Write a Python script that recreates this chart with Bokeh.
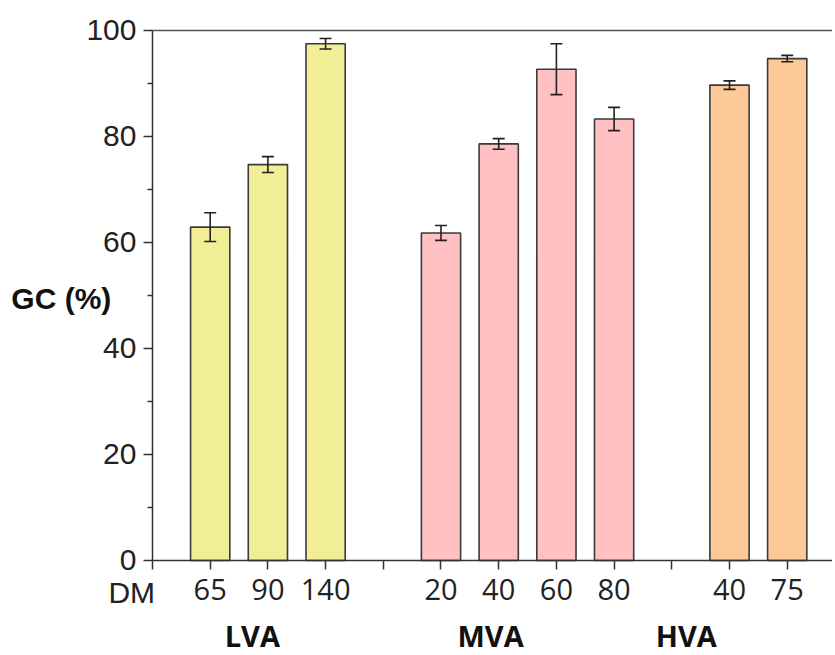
from bokeh.plotting import figure
from bokeh.models import (Range1d, LinearAxis, FixedTicker, Whisker, TeeHead,
                          ColumnDataSource, Label)
from bokeh.embed import file_html
from bokeh.resources import INLINE

# ---- data ----
groups = ["LVA", "MVA", "HVA"]
group_dm = [["65", "90", "140"], ["20", "40", "60", "80"], ["40", "75"]]
group_gc = [[62.9, 74.7, 97.5], [61.8, 78.6, 92.7, 83.3], [89.7, 94.7]]
group_err = [[2.7, 1.5, 1.0], [1.4, 1.0, 4.8, 2.2], [0.8, 0.6]]
group_colors = ["#F2EE98", "#FFC1C1", "#FDC998"]
y_ticks = [0, 20, 40, 60, 80, 100]
y_minor = [10, 30, 50, 70, 90]

# ---- positions (one slot per bar, one empty slot between groups) ----
xs, tops, errs, cols, overrides = [], [], [], [], {0: ""}
pos = 1
for gi, (dms, gcs, ers) in enumerate(zip(group_dm, group_gc, group_err)):
    for d, v, e in zip(dms, gcs, ers):
        xs.append(pos); tops.append(v); errs.append(e); cols.append(group_colors[gi])
        overrides[pos] = d
        pos += 1
    if gi < len(groups) - 1:
        overrides[pos] = ""
        pos += 1

src = ColumnDataSource(dict(x=xs, top=tops, color=cols,
                            upper=[t + e for t, e in zip(tops, errs)],
                            lower=[t - e for t, e in zip(tops, errs)]))

X_END = 11.785
Y_TOP = 100
p = figure(width=832, height=654, output_backend="svg", toolbar_location=None,
           x_range=Range1d(-2.634, X_END), y_range=Range1d(-17.74, 105.66),
           min_border=0)
p.outline_line_color = None
p.grid.visible = False
p.background_fill_color = "white"
p.border_fill_color = "white"

p.vbar(x="x", top="top", width=0.68, bottom=0, source=src, fill_color="color",
       line_color="#3a3a3a", line_width=1.6)
p.add_layout(Whisker(base="x", upper="upper", lower="lower", source=src,
                     level="overlay", line_color="#222222", line_width=1.6,
                     upper_head=TeeHead(size=12, line_color="#222222", line_width=1.6),
                     lower_head=TeeHead(size=12, line_color="#222222", line_width=1.6)))

# x axis
xa = p.xaxis[0]
xa.fixed_location = 0
xa.bounds = (0, X_END)
xa.ticker = FixedTicker(ticks=list(range(0, pos)))
xa.major_label_overrides = overrides
xa.major_label_text_font = "Open Sans"
xa.major_label_text_font_size = "29px"
xa.major_label_text_color = "#222222"
xa.major_label_standoff = 10
xa.major_tick_in = 0
xa.major_tick_out = 9
xa.minor_tick_line_color = None
xa.axis_line_color = "#333333"
xa.axis_line_width = 1.5
xa.major_tick_line_color = "#333333"
xa.major_tick_line_width = 1.5

# y axis
ya = p.yaxis[0]
ya.fixed_location = 0
ya.bounds = (0, Y_TOP)
ya.ticker = FixedTicker(ticks=y_ticks, minor_ticks=y_minor)
ya.major_label_text_font = "Liberation Sans"
ya.major_label_text_font_size = "30px"
ya.major_label_text_color = "#222222"
ya.major_label_standoff = 7
ya.major_tick_in = 0
ya.major_tick_out = 9
ya.minor_tick_in = 0
ya.minor_tick_out = 5
ya.axis_line_color = "#333333"
ya.axis_line_width = 1.5
ya.major_tick_line_color = "#333333"
ya.major_tick_line_width = 1.5
ya.minor_tick_line_color = "#333333"
ya.minor_tick_line_width = 1.5

# top border line
top_axis = LinearAxis(fixed_location=Y_TOP, bounds=(0, X_END),
                      ticker=FixedTicker(ticks=[]), axis_line_color="#555555",
                      axis_line_width=1.5, major_tick_line_color=None,
                      minor_tick_line_color=None)
p.add_layout(top_axis, "above")

# labels
p.add_layout(Label(x=-1.58, y=49.4, text="GC (%)", text_font="Liberation Sans",
                   text_font_style="bold", text_font_size="30px",
                   text_align="center", text_baseline="middle", text_color="#111111"))
p.add_layout(Label(x=-0.36, y=-6.0, text="DM", text_font="Liberation Sans",
                   text_font_size="30px", text_align="center",
                   text_baseline="middle", text_color="#222222"))
group_label_x = [1.73, 5.86, 9.25]
for g, gx in zip(groups, group_label_x):
    p.add_layout(Label(x=gx, y=-14.1, text=g, text_font="Open Sans",
                       text_font_style="bold", text_font_size="29px",
                       text_align="center", text_baseline="middle",
                       text_color="#111111"))

open("out.html", "w").write(file_html(p, INLINE))
